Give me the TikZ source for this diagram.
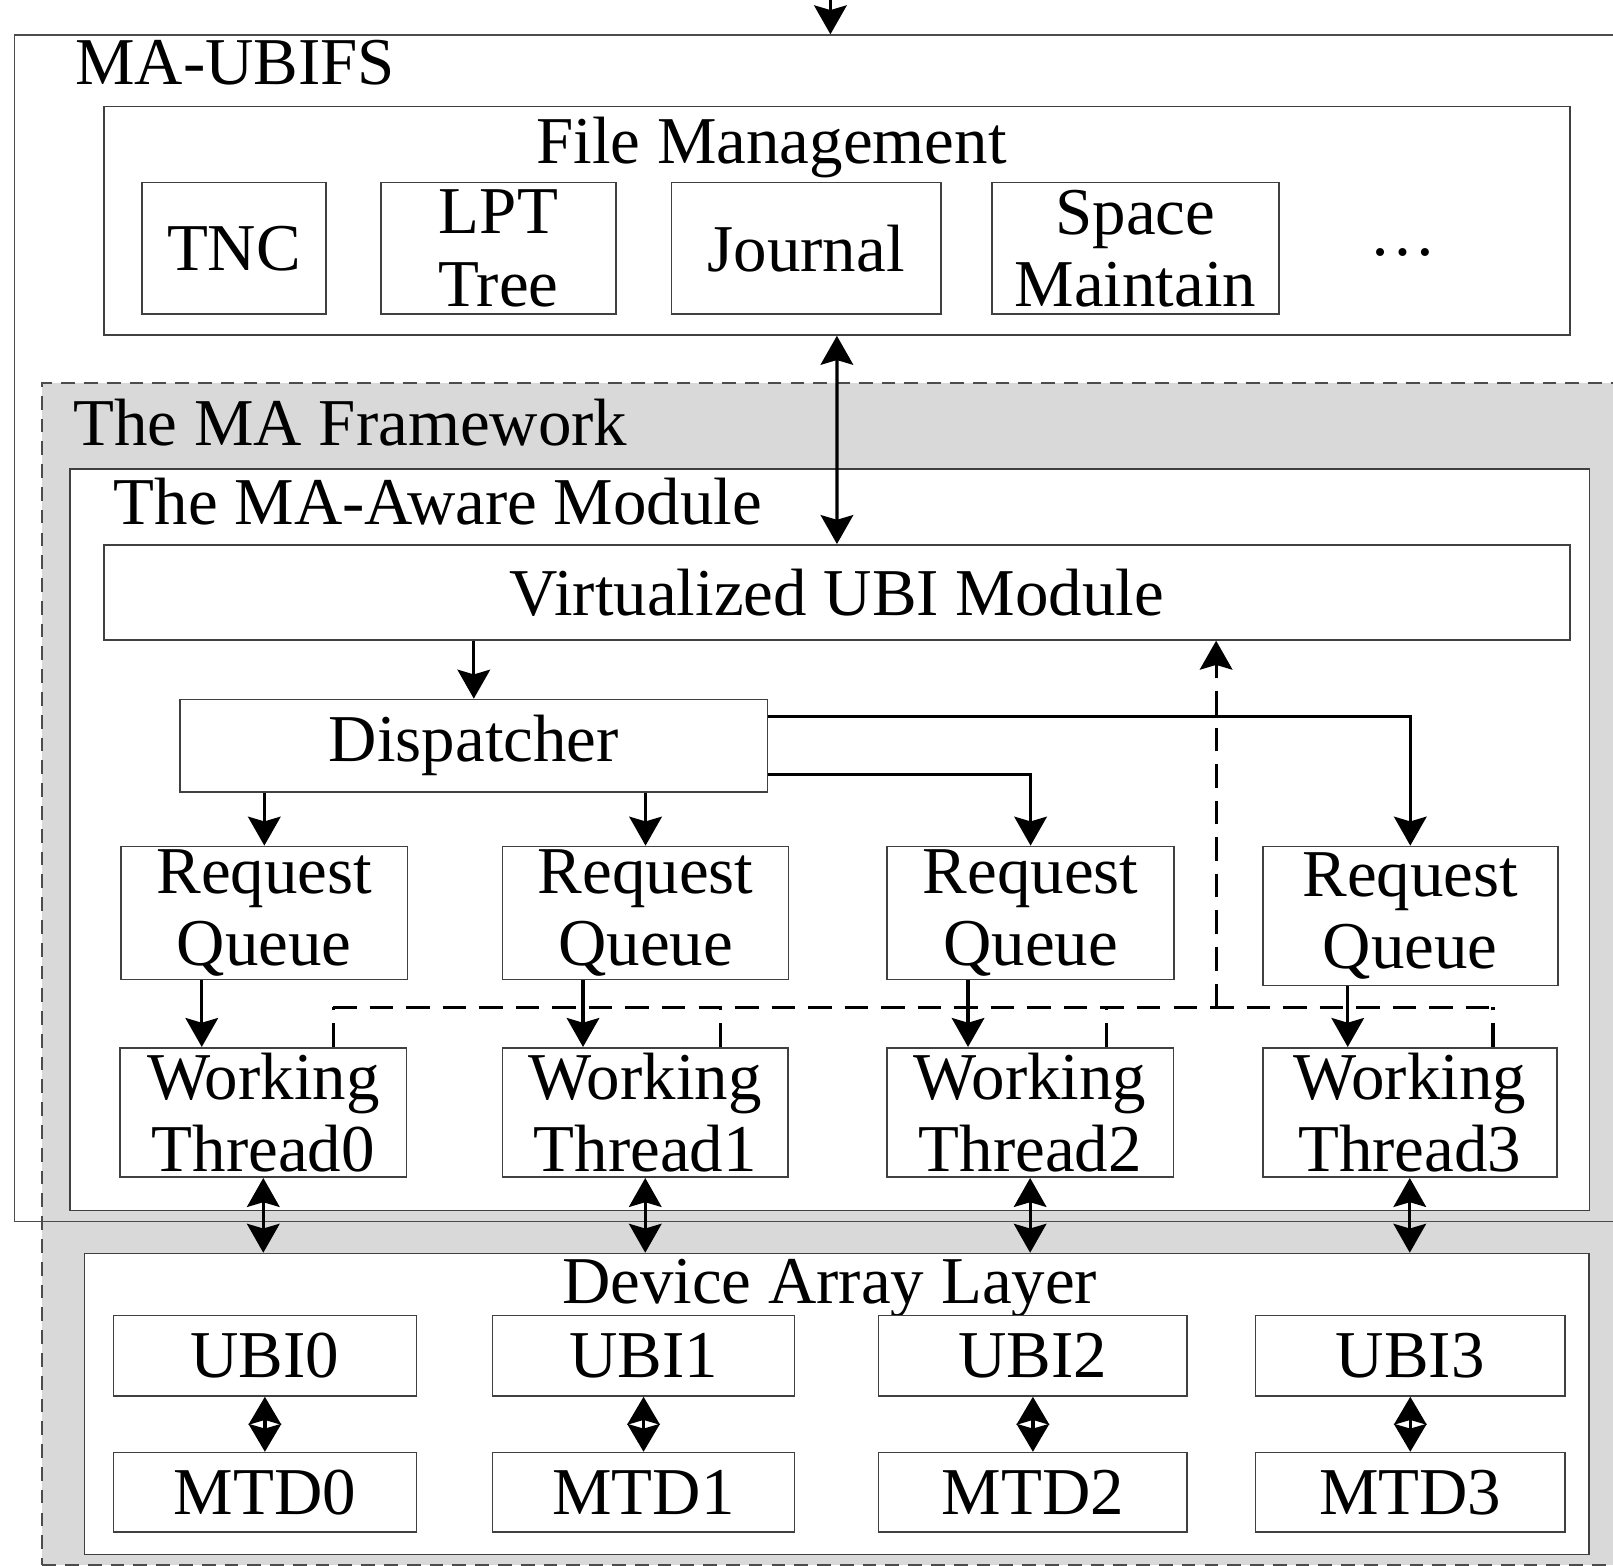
\documentclass[tikz,border=0pt]{standalone}
\usepackage{fontspec}
\setmainfont{Liberation Serif}
\usetikzlibrary{calc}
\usetikzlibrary{arrows.meta}

\begin{document}
\begin{tikzpicture}[x=0.01cm,y=-0.01cm,
	every node/.style={font=\fontsize{18.5}{20}\selectfont},
	blk/.style={draw=black!75, line width=0.45pt, fill=white, inner sep=0pt, align=center},
	lbl/.style={inner sep=0pt},
	arr/.style={line width=0.9pt, -{Stealth[length=8pt,width=9pt,inset=1.3pt]}},
	darr/.style={line width=0.9pt, {Stealth[length=8pt,width=9pt,inset=1.3pt]}-{Stealth[length=8pt,width=9pt,inset=1.3pt]}},
	sarr/.style={line width=0.9pt, {Stealth[length=7.7pt,width=9pt,inset=1.3pt]}-{Stealth[length=7.7pt,width=9pt,inset=1.3pt]}},
	dline/.style={line width=0.85pt, dash pattern=on 6.5pt off 3.6pt}]
			\useasboundingbox (0,0) rectangle (1568,1522);
			\clip (0,0) rectangle (1568,1522);

			% gray MA framework area and the MA-UBIFS frame
			\node[draw=black!70, fill=black!15, line width=0.4pt, dash pattern=on 3.8pt off 2.5pt, inner sep=0pt, minimum width=15.785cm, minimum height=11.482cm] (frame) at (830.75,946.7) {};
			\node[draw=black!70, line width=0.45pt, inner sep=0pt, minimum width=15.855cm, minimum height=11.525cm] (ubifs) at (807.25,610.75) {};
			\node[lbl, anchor=base west] (ubifsT) at (72.5,82.6) {MA-UBIFS};
			\node[lbl, anchor=base west] (frameT) at (70.7,432.6) {The MA Framework};

			% file management
			\node[blk, minimum width=14.239cm, minimum height=2.219cm] (fm) at (813.55,214.65) {};
			\node[lbl, anchor=base] (fmT) at (750,158.8) {File Management};
			\node[blk, minimum width=1.792cm, minimum height=1.279cm] (tnc) at (227.4,241.55) {TNC};
			\node[blk, minimum width=2.283cm, minimum height=1.279cm] (lpt) at (484.55,241.55) {LPT\\Tree};
			\node[blk, minimum width=2.617cm, minimum height=1.279cm] (jrn) at (783.75,241.55) {Journal};
			\node[blk, minimum width=2.785cm, minimum height=1.279cm] (spc) at (1103.75,241.55) {Space\\Maintain};
			\node[lbl, anchor=base] (dots) at (1364,248) {\ldots};

			% MA-aware module
			\node[blk, minimum width=14.759cm, minimum height=7.205cm] (aware) at (806.65,816.25) {};
			\node[lbl, anchor=base west] (awareT) at (110,510.3) {The MA-Aware Module};
			\node[blk, minimum width=14.24cm, minimum height=0.923cm] (vum) at (813.6,575.85) {Virtualized UBI Module};
			\node[blk, minimum width=5.704cm, minimum height=0.9cm] (disp) at (460.6,725) {Dispatcher};

			\node[blk, minimum width=2.781cm, minimum height=1.294cm] (rq0) at (256.95,887.6) {Request\\Queue};
			\node[blk, minimum width=2.781cm, minimum height=1.294cm] (rq1) at (627.55,887.6) {Request\\Queue};
			\node[blk, minimum width=2.791cm, minimum height=1.294cm] (rq2) at (1001.85,887.6) {Request\\Queue};
			\node[blk, minimum width=2.867cm, minimum height=1.35cm] (rq3) at (1370.95,890.4) {Request\\Queue};

			\node[blk, minimum width=2.781cm, minimum height=1.257cm] (wt0) at (255.95,1081.45) {Working\\Thread0};
			\node[blk, minimum width=2.775cm, minimum height=1.257cm] (wt1) at (627.25,1081.45) {Working\\Thread1};
			\node[blk, minimum width=2.782cm, minimum height=1.257cm] (wt2) at (1001.4,1081.45) {Working\\Thread2};
			\node[blk, minimum width=2.857cm, minimum height=1.257cm] (wt3) at (1370.45,1081.45) {Working\\Thread3};

			% device array layer
			\node[blk, minimum width=14.621cm, minimum height=2.922cm] (dal) at (813.45,1364.8) {};
			\node[lbl, anchor=base] (dalT) at (806.5,1267.5) {Device Array Layer};

			\node[blk, minimum width=2.944cm, minimum height=0.781cm] (ubi0) at (257.5,1317.95) {UBI0};
			\node[blk, minimum width=2.934cm, minimum height=0.781cm] (ubi1) at (625.6,1317.95) {UBI1};
			\node[blk, minimum width=2.998cm, minimum height=0.781cm] (ubi2) at (1004.1,1317.95) {UBI2};
			\node[blk, minimum width=3.009cm, minimum height=0.781cm] (ubi3) at (1370.95,1317.95) {UBI3};

			\node[blk, minimum width=2.944cm, minimum height=0.774cm] (mtd0) at (257.5,1450.8) {MTD0};
			\node[blk, minimum width=2.934cm, minimum height=0.774cm] (mtd1) at (625.6,1450.8) {MTD1};
			\node[blk, minimum width=2.998cm, minimum height=0.774cm] (mtd2) at (1004.1,1450.8) {MTD2};
			\node[blk, minimum width=3.009cm, minimum height=0.774cm] (mtd3) at (1370.95,1450.8) {MTD3};

			% connectors
			\coordinate (in) at (807.25,-10);
			\draw[arr] (in) -- (ubifs.north);
			\draw[darr] (fm.south) -- (vum.north);
			\draw[arr] (vum.south -| disp.north) -- (disp.north);
			\draw[arr] (disp.south -| rq0.north) -- (rq0.north);
			\draw[arr] (disp.south -| rq1.north) -- (rq1.north);
			\draw[arr] ([yshift=0.18cm]disp.south east) -| (rq2.north);
			\draw[arr] ([yshift=-0.175cm]disp.north east) -| (rq3.north);

			\foreach \i in {0,...,3}{
				\path (rq\i.south) ++(-60.8,0) coordinate (q\i);
				\draw[arr] (q\i) -- (q\i |- wt\i.north);
				\draw[darr] (wt\i.south) -- (wt\i.south |- dal.north);
				\draw[sarr] (ubi\i.south) -- (mtd\i.north);
			}

			% feedback from the threads
			\coordinate (dj) at (1182.2,979);
			\foreach \i/\dx in {0/67.9,1/72.8,2/74,3/80.9}{
				\path (wt\i.north) ++(\dx,0) coordinate (s\i);
				\draw[dline] (s\i) -- (s\i |- dj);
			}
			\draw[dline] (s0 |- dj) -- (s3 |- dj);
			\draw[dline, -{Stealth[length=8pt,width=9pt,inset=1.3pt]}] (dj) -- (dj |- vum.south);

		\end{tikzpicture}
\end{document}
